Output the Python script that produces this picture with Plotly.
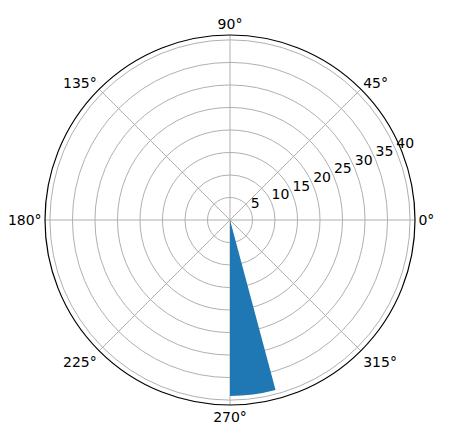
import plotly.graph_objects as go

# Data
bar_theta = [277.5]     # degrees, centre of the wedge
bar_width = [15]        # degrees
bar_r = [39.1]
radial_ticks = [5, 10, 15, 20, 25, 30, 35, 40]
radial_labels = [str(v) for v in radial_ticks]
radial_label_angle = 22.5
angular_ticks = [0, 45, 90, 135, 180, 225, 270, 315]
angular_labels = ["0°", "45°", "90°", "135°", "180°", "225°", "270°", "315°"]
r_max = 41.1

fig = go.Figure()
fig.add_trace(go.Barpolar(
    r=bar_r, theta=bar_theta, width=bar_width,
    marker=dict(color="#1f77b4", line=dict(width=0)),
    opacity=1, hoverinfo="skip",
))
fig.add_trace(go.Scatterpolar(
    r=radial_ticks, theta=[radial_label_angle] * len(radial_ticks),
    mode="text", text=radial_labels, textposition="top right",
    textfont=dict(family="DejaVu Sans", size=14, color="black"),
    hoverinfo="skip",
))

W, H = 453, 442
cx, cy, R = 222, 212, 185
fig.update_layout(
    width=W, height=H,
    margin=dict(l=0, r=0, t=0, b=0),
    paper_bgcolor="white",
    showlegend=False,
    font=dict(family="DejaVu Sans", size=14, color="black"),
    polar=dict(
        domain=dict(x=[(cx - R) / W, (cx + R) / W], y=[1 - (cy + R) / H, 1 - (cy - R) / H]),
        bgcolor="white",
        bargap=0,
        radialaxis=dict(
            range=[0, r_max], tickvals=radial_ticks, showticklabels=False,
            angle=22.5, showline=False, ticks="",
            gridcolor="#b0b0b0", gridwidth=0.8,
        ),
        angularaxis=dict(
            tickvals=angular_ticks, ticktext=angular_labels,
            direction="counterclockwise", rotation=0,
            showline=True, linecolor="black", linewidth=1.2,
            ticks="",
            gridcolor="#b0b0b0", gridwidth=0.8,
            tickfont=dict(family="DejaVu Sans", size=14, color="black"),
        ),
    ),
)
fig.write_html("out.html")
